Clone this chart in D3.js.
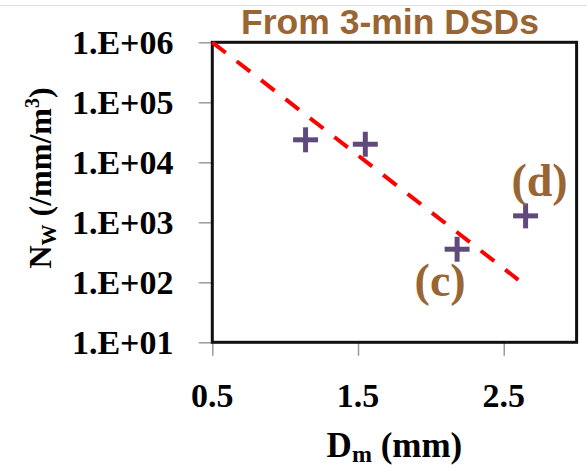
<!DOCTYPE html>
<html>
<head>
<meta charset="utf-8">
<script src="https://cdn.jsdelivr.net/npm/d3@7"></script>
<style>
  html, body { margin: 0; padding: 0; background: #fff; }
  svg { display: block; }
</style>
</head>
<body>
<svg id="chart" width="587" height="470"></svg>
<script>
// ---- data ----
const dmValues = [1.14, 1.55, 2.18, 2.65];          // Dm (mm)
const nwValues = [23700, 20000, 356, 1280];          // Nw (/mm/m^3)
const fitDm = [0.5, 2.6];                            // fitted line endpoints
const fitNw = [1000000, 110];
const xTickValues = [0.5, 1.5, 2.5];
const yTickValues = [1e1, 1e2, 1e3, 1e4, 1e5, 1e6];
const yTickLabels = ["1.E+01", "1.E+02", "1.E+03", "1.E+04", "1.E+05", "1.E+06"];
const annotations = [{ idx: 2, text: "(c)" }, { idx: 3, text: "(d)" }];
const titleText = "From 3-min DSDs";

(function () {
// ---- layout ----
const svg = d3.select("#chart");
const pLeft = 212.3, pRight = 576.6, pTop = 42.3, pBottom = 342.3;
const serif = "'Liberation Serif', 'Times New Roman', serif";
const brown = "#996633";
const purple = "#604A7B";

const x = d3.scaleLinear().domain([0.5, 3.0]).range([pLeft, pRight]);
const y = d3.scaleLog().domain([10, 1e6]).range([pBottom, pTop]);

// thin light line at top of the slide
svg.append("line").attr("x1", 0).attr("x2", 587).attr("y1", 5.5).attr("y2", 5.5)
  .attr("stroke", "#e2e2e2").attr("stroke-width", 1);

// title
svg.append("text").attr("x", 390).attr("y", 33.5)
  .attr("text-anchor", "middle")
  .attr("font-family", "'Liberation Sans', Arial, sans-serif")
  .attr("font-weight", "bold").attr("font-size", 35.5)
  .attr("fill", brown).text(titleText);

// axes (gray) with ticks
const yAxis = d3.axisLeft(y).tickValues(yTickValues).tickSize(13).tickFormat(() => "");
const gy = svg.append("g").attr("transform", `translate(${pLeft - 0.5},0)`).call(yAxis);
gy.select(".domain").remove();
gy.selectAll(".tick line").attr("stroke", "#9a9a9a").attr("stroke-width", 1.5);

const xAxis = d3.axisBottom(x).tickValues(xTickValues).tickSize(13).tickFormat(() => "");
const gx = svg.append("g").attr("transform", `translate(0,${pBottom + 0.5})`).call(xAxis);
gx.select(".domain").remove();
gx.selectAll(".tick line").attr("stroke", "#9a9a9a").attr("stroke-width", 1.5);

// frame
svg.append("rect").attr("x", pLeft).attr("y", pTop)
  .attr("width", pRight - pLeft).attr("height", pBottom - pTop)
  .attr("fill", "none").attr("stroke", "#111").attr("stroke-width", 3);

// y tick labels
svg.append("g").selectAll("text").data(yTickValues).join("text")
  .attr("x", 173.5).attr("y", d => y(d))
  .attr("dy", "0.34em")
  .attr("text-anchor", "end")
  .attr("font-family", serif).attr("font-weight", "bold").attr("font-size", 34)
  .attr("fill", "#000")
  .text((d, i) => yTickLabels[i]);

// x tick labels
svg.append("g").selectAll("text").data(xTickValues).join("text")
  .attr("x", d => x(d)).attr("y", 407)
  .attr("text-anchor", "middle")
  .attr("font-family", serif).attr("font-weight", "bold").attr("font-size", 34)
  .attr("fill", "#000")
  .text(d => d3.format(".1f")(d));

// x axis title
const xt = svg.append("text").attr("x", (pLeft + pRight) / 2).attr("y", 457)
  .attr("text-anchor", "middle")
  .attr("font-family", serif).attr("font-weight", "bold").attr("font-size", 35)
  .attr("fill", "#000");
xt.append("tspan").text("D");
xt.append("tspan").attr("font-size", 24).attr("dy", 5).text("m");
xt.append("tspan").attr("dy", -5).text(" (mm)");

// y axis title
const yt = svg.append("text")
  .attr("transform", `translate(51,${178}) rotate(-90)`)
  .attr("text-anchor", "middle")
  .attr("font-family", serif).attr("font-weight", "bold").attr("font-size", 32)
  .attr("fill", "#000");
yt.append("tspan").text("N");
yt.append("tspan").attr("font-size", 21).attr("dy", 5).text("W");
yt.append("tspan").attr("dy", -5).text(" (/mm/m");
yt.append("tspan").attr("font-size", 20).attr("dy", -12).text("3");
yt.append("tspan").attr("dy", 12).text(")");

// fitted dashed line
const fitData = fitDm.map((d, i) => [d, fitNw[i]]);
svg.append("path").datum(fitData)
  .attr("d", d3.line().x(d => x(d[0])).y(d => y(d[1])))
  .attr("fill", "none").attr("stroke", "#ff0000")
  .attr("stroke-width", 4).attr("stroke-dasharray", "17,13.9");

// plus markers
const pts = dmValues.map((d, i) => [d, nwValues[i]]);
const arm = 12.5;
const gp = svg.append("g").attr("stroke", purple).attr("stroke-width", 5);
gp.selectAll("line.h").data(pts).join("line").attr("class", "h")
  .attr("x1", d => x(d[0]) - arm).attr("x2", d => x(d[0]) + arm)
  .attr("y1", d => y(d[1])).attr("y2", d => y(d[1]));
gp.selectAll("line.v").data(pts).join("line").attr("class", "v")
  .attr("x1", d => x(d[0])).attr("x2", d => x(d[0]))
  .attr("y1", d => y(d[1]) - arm).attr("y2", d => y(d[1]) + arm);

// annotations (c), (d)
const annOffsets = { "(c)": [-17, 47], "(d)": [14, -20] };
svg.append("g").selectAll("text").data(annotations).join("text")
  .attr("x", d => x(dmValues[d.idx]) + annOffsets[d.text][0])
  .attr("y", d => y(nwValues[d.idx]) + annOffsets[d.text][1])
  .attr("text-anchor", "middle")
  .attr("font-family", serif).attr("font-weight", "bold").attr("font-size", 46)
  .attr("fill", brown)
  .text(d => d.text);
})();
</script>
</body>
</html>
